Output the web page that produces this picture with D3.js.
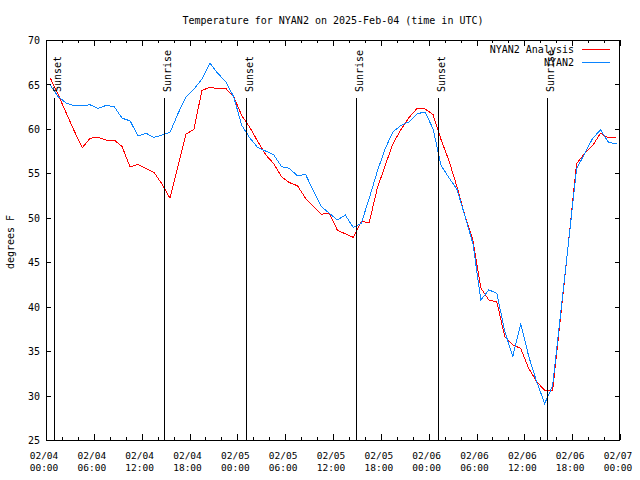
<!DOCTYPE html>
<html>
<head>
<meta charset="utf-8">
<script src="https://cdn.jsdelivr.net/npm/d3@7"></script>
<style>
  html, body { margin: 0; padding: 0; background: #fff; }
  svg { display: block; }
  text { font-family: "DejaVu Sans Mono", "Liberation Mono", monospace; fill: #000; }
</style>
</head>
<body>
<svg id="chart" width="640" height="480"></svg>
<script>
// ---- Data (hours after 2025-02-04 00:00 UTC) ----
const hours = [0.55,1.55,2.55,3.55,4.55,5.55,6.55,7.55,8.55,9.55,10.55,11.55,12.55,13.55,14.55,15.55,16.55,17.55,18.55,19.55,20.55,21.55,22.55,23.55,
  24.55,25.55,26.55,27.55,28.55,29.55,30.55,31.55,32.55,33.55,34.55,35.55,36.55,37.55,38.55,39.55,40.55,41.55,42.55,43.55,44.55,45.55,46.55,47.55,
  48.55,49.55,50.55,51.55,52.55,53.55,54.55,55.55,56.55,57.55,58.55,59.55,60.55,61.55,62.55,63.55,64.55,65.55,66.55,67.55,68.55,69.55,70.55,71.55];

const analysis = [65.7,63.8,61.75,59.75,57.9,58.95,59.05,58.75,58.75,58.0,55.7,56.0,55.55,55.1,53.8,52.2,55.8,59.4,59.95,64.3,64.7,64.5,64.55,63.6,
  61.5,60.2,58.6,57.1,56.1,54.6,53.95,53.6,52.2,51.3,50.4,50.5,48.6,48.2,47.8,49.55,49.5,53.3,55.9,58.4,59.95,61.3,62.3,62.25,
  61.6,58.8,56.4,53.5,50.2,47.5,42.1,40.75,40.55,36.6,35.7,35.3,33.05,31.55,30.6,30.55,38.9,47.3,56.1,57.2,58.1,59.5,59.0,59.05];

const observed = [64.9,63.6,62.9,62.6,62.65,62.7,62.3,62.65,62.5,61.2,60.9,59.2,59.5,59.05,59.3,59.6,61.7,63.6,64.45,65.6,67.4,66.25,65.3,63.6,
  60.4,59.0,57.9,57.5,57.1,55.75,55.55,54.7,54.9,53.0,51.25,50.5,49.75,50.3,48.9,49.4,52.2,55.2,57.8,59.7,60.4,60.8,61.7,61.9,
  60.0,55.9,54.5,53.2,50.2,47.1,40.75,41.9,41.5,37.2,34.4,38.1,34.4,31.55,29.1,31.1,39.25,47.3,55.5,57.2,58.9,59.9,58.5,58.3];

const sunHours = [1.0, 14.8, 25.1, 38.9, 49.2, 62.85];
const sunLabels = ["Sunset","Sunrise","Sunset","Sunrise","Sunset","Sunrise"];

const yTicks = [25,30,35,40,45,50,55,60,65,70];
const seriesNames = ["NYAN2 Analysis","NYAN2"];
const seriesColors = ["#ff0000","#0a84ff"];
const titleText = "Temperature for NYAN2 on 2025-Feb-04 (time in UTC)";
const yLabel = "degrees F";

// ---- Chart ----
(function(){
const t0 = Date.UTC(2025,1,4,0,0);
const H = 3600*1000;
const toDate = h => new Date(t0 + h*H);

const pl = 46, pr = 620, pt = 40, pb = 440;
const svg = d3.select("#chart");
svg.append("rect").attr("width",640).attr("height",480).attr("fill","#fff");

const x = d3.scaleUtc().domain([toDate(0), toDate(72)]).range([pl, pr]);
const y = d3.scaleLinear().domain([25,70]).range([pb, pt]);

const majorTicks = d3.utcHour.every(6).range(toDate(0), toDate(72.01));
const minorTicks = d3.utcHour.every(2).range(toDate(0), toDate(72.01)).filter(d => d.getUTCHours() % 6 !== 0);

const fmtDate = d3.utcFormat("%m/%d");
const fmtTime = d3.utcFormat("%H:%M");

// minor ticks bottom/top
svg.append("g").attr("transform",`translate(0,${pb})`)
  .call(d3.axisBottom(x).tickValues(minorTicks).tickSizeInner(-3).tickSizeOuter(0).tickFormat(""))
  .call(g => g.select(".domain").remove());
svg.append("g").attr("transform",`translate(0,${pt})`)
  .call(d3.axisTop(x).tickValues(minorTicks).tickSizeInner(-3).tickSizeOuter(0).tickFormat(""))
  .call(g => g.select(".domain").remove());
// major ticks bottom with labels
const xAxis = svg.append("g").attr("transform",`translate(0,${pb})`)
  .call(d3.axisBottom(x).tickValues(majorTicks).tickSizeInner(-6).tickSizeOuter(0).tickPadding(0).tickFormat(""));
xAxis.select(".domain").remove();
xAxis.selectAll(".tick").each(function(d){
  const g = d3.select(this);
  const t = g.append("text").attr("text-anchor","middle").attr("font-size","9.5px").attr("x",-2.5);
  t.append("tspan").attr("x",-2.5).attr("y",19).text(fmtDate(d));
  t.append("tspan").attr("x",-2.5).attr("y",31).text(fmtTime(d));
});
svg.append("g").attr("transform",`translate(0,${pt})`)
  .call(d3.axisTop(x).tickValues(majorTicks).tickSizeInner(-6).tickSizeOuter(0).tickFormat(""))
  .call(g => g.select(".domain").remove());

// y axis
const yAxis = svg.append("g").attr("transform",`translate(${pl},0)`)
  .call(d3.axisLeft(y).tickValues(yTicks).tickSizeInner(-5).tickSizeOuter(0).tickPadding(7).tickFormat(d3.format("d")));
yAxis.select(".domain").remove();
yAxis.selectAll("text").attr("font-size","10px").attr("dy","0.36em").attr("x",-6);
svg.append("g").attr("transform",`translate(${pr},0)`)
  .call(d3.axisRight(y).tickValues(yTicks).tickSizeInner(-5).tickSizeOuter(0).tickFormat(""))
  .call(g => g.select(".domain").remove());

svg.selectAll(".tick line").attr("stroke","#000").attr("shape-rendering","crispEdges");

// frame
svg.append("rect").attr("x",pl+0.5).attr("y",pt+0.5).attr("width",pr-pl-1).attr("height",pb-pt)
  .attr("fill","none").attr("stroke","#000").attr("shape-rendering","crispEdges");

// title & y label
svg.append("text").attr("x",333).attr("y",24).attr("text-anchor","middle").attr("font-size","10px").text(titleText);
svg.append("text").attr("transform","translate(14,242) rotate(-90)").attr("text-anchor","middle").attr("font-size","10px").text(yLabel);

// series
const line = d3.line().x((d,i) => x(toDate(hours[i]))).y(d => y(d));
[analysis, observed].forEach((s,i) => {
  svg.append("path").datum(s).attr("d",line).attr("fill","none")
    .style("stroke",seriesColors[i]).attr("stroke-width",1).attr("shape-rendering","crispEdges");
});

// sun lines
sunHours.forEach((h,i) => {
  const xx = Math.round(x(toDate(h))) + 0.5;
  svg.append("line").attr("x1",xx).attr("x2",xx).attr("y1",98).attr("y2",pb)
    .style("stroke","#000").attr("stroke-width",1.2).attr("shape-rendering","crispEdges");
  svg.append("text").attr("transform",`translate(${xx+6},92) rotate(-90)`)
    .attr("font-size","10px").attr("text-anchor","start").text(sunLabels[i]);
});

// legend
const legend = svg.append("g").attr("class","legend");
seriesNames.forEach((n,i) => {
  const ly = 49 + i*13;
  legend.append("text").attr("x",574).attr("y",ly).attr("dy","0.36em").attr("text-anchor","end").attr("font-size","10px").text(n);
  legend.append("path").attr("d",`M582,${ly+0.5}H610`)
    .style("stroke",seriesColors[i]).style("stroke-width","1px").style("fill","none");
});
})();
</script>
</body>
</html>
